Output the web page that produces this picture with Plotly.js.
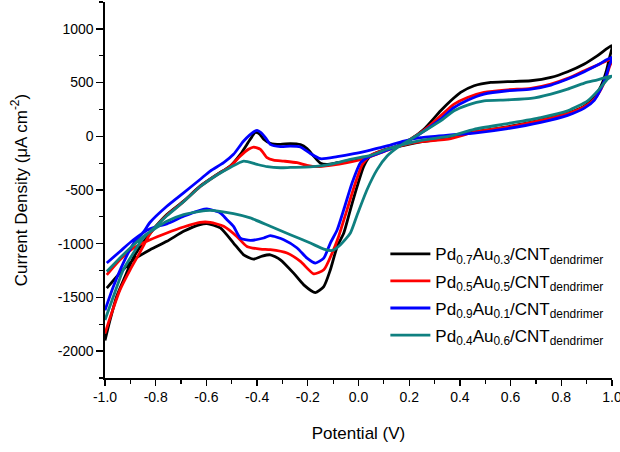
<!DOCTYPE html>
<html>
<head>
<meta charset="utf-8">
<script src="https://cdn.plot.ly/plotly-3.0.1.min.js"></script>
<style>html,body{margin:0;padding:0;background:#fff;}#chart{width:620px;height:452px;}</style>
</head>
<body>
<div id="chart"></div>
<script>
// Potential (V) and current density (uA cm^-2), one closed CV loop per sample
const seriesNames = [
  "Pd<sub>0.7</sub>Au<sub>0.3</sub>/CNT<sub>dendrimer</sub>",
  "Pd<sub>0.5</sub>Au<sub>0.5</sub>/CNT<sub>dendrimer</sub>",
  "Pd<sub>0.9</sub>Au<sub>0.1</sub>/CNT<sub>dendrimer</sub>",
  "Pd<sub>0.4</sub>Au<sub>0.6</sub>/CNT<sub>dendrimer</sub>"
];
const seriesColors = ["#000000", "#ff0000", "#0000ff", "#0f8080"];

const xTickVals = [-1.0,-0.8,-0.6,-0.4,-0.2,0.0,0.2,0.4,0.6,0.8,1.0];
const xTickText = ["-1.0","-0.8","-0.6","-0.4","-0.2","0.0","0.2","0.4","0.6","0.8","1.0"];
const yTickVals = [-2000,-1500,-1000,-500,0,500,1000];
const yTickText = ["-2000","-1500","-1000","-500","0","500","1000"];

const pd73V = [-1.0,-0.98,-0.954,-0.915,-0.888,-0.85,-0.8,-0.756,-0.69,-0.625,-0.558,-0.506,-0.466,-0.427,-0.407,-0.39,-0.374,-0.348,-0.308,-0.269,-0.229,-0.203,-0.177,-0.15,-0.124,-0.084,-0.018,0.047,0.113,0.179,0.245,0.364,0.456,0.588,0.719,0.825,0.891,0.93,0.957,0.976,0.989,1.0,
  0.943,0.891,0.825,0.759,0.68,0.588,0.522,0.456,0.403,0.364,0.324,0.258,0.206,0.153,0.087,0.047,0.021,-0.005,-0.032,-0.058,-0.084,-0.111,-0.137,-0.17,-0.216,-0.256,-0.308,-0.348,-0.38,-0.414,-0.453,-0.493,-0.545,-0.598,-0.625,-0.69,-0.756,-0.822,-0.888,-0.94,-0.993];
const pd73I = [-1900,-1710,-1492,-1274,-1130,-990,-840,-729,-604,-464,-355,-277,-168,-28,35,20,-28,-65,-75,-68,-78,-115,-184,-252,-262,-246,-221,-184,-121,-84,-53,-12,40,88,150,215,280,361,470,595,720,844,
  751,673,601,548,517,508,502,470,408,330,237,65,-28,-90,-137,-184,-277,-464,-682,-900,-1025,-1243,-1399,-1455,-1383,-1274,-1150,-1103,-1115,-1143,-1103,-994,-853,-813,-822,-885,-978,-1056,-1150,-1270,-1414];

const pd55V = [-1.0,-0.974,-0.941,-0.901,-0.862,-0.82,-0.756,-0.69,-0.625,-0.558,-0.506,-0.466,-0.434,-0.414,-0.387,-0.361,-0.335,-0.295,-0.242,-0.203,-0.163,-0.111,-0.045,0.021,0.087,0.153,0.219,0.364,0.456,0.588,0.719,0.825,0.891,0.93,0.957,0.976,0.989,1.0,
  0.943,0.891,0.825,0.759,0.68,0.588,0.495,0.43,0.377,0.324,0.26,0.2,0.15,0.087,0.047,0.015,-0.012,-0.045,-0.078,-0.104,-0.137,-0.177,-0.229,-0.282,-0.348,-0.387,-0.44,-0.48,-0.532,-0.585,-0.625,-0.69,-0.756,-0.822,-0.888,-0.941,-0.993];
const pd55I = [-1835,-1648,-1430,-1243,-1080,-900,-735,-608,-468,-358,-280,-184,-121,-100,-121,-199,-222,-231,-246,-271,-283,-271,-246,-209,-153,-96,-59,-22,38,85,148,212,276,345,440,540,640,720,
  663,610,539,486,446,433,408,361,299,190,60,-35,-95,-140,-178,-262,-433,-682,-930,-1087,-1243,-1280,-1165,-1087,-1056,-1050,-1025,-932,-838,-801,-801,-844,-900,-963,-1040,-1150,-1290];

const pd91V = [-1.0,-0.967,-0.928,-0.888,-0.848,-0.822,-0.756,-0.69,-0.625,-0.585,-0.532,-0.493,-0.453,-0.414,-0.4,-0.385,-0.365,-0.348,-0.308,-0.269,-0.229,-0.19,-0.15,-0.084,-0.018,0.047,0.113,0.179,0.245,0.364,0.456,0.588,0.719,0.825,0.891,0.93,0.957,0.976,0.989,1.0,
  0.943,0.891,0.825,0.759,0.68,0.588,0.495,0.43,0.377,0.324,0.26,0.2,0.15,0.1,0.034,0.008,-0.025,-0.058,-0.084,-0.111,-0.137,-0.17,-0.203,-0.242,-0.295,-0.348,-0.374,-0.427,-0.466,-0.493,-0.519,-0.545,-0.598,-0.625,-0.69,-0.756,-0.822,-0.888,-0.941,-0.993];
const pd91I = [-1620,-1399,-1180,-1000,-890,-800,-651,-526,-402,-324,-246,-168,-44,40,55,35,-20,-75,-96,-92,-100,-160,-209,-190,-162,-128,-90,-44,-12,12,30,72,130,195,262,335,445,555,655,735,
  663,601,533,477,439,424,393,336,268,159,50,-40,-95,-140,-199,-246,-433,-682,-870,-994,-1134,-1180,-1134,-1040,-963,-925,-947,-969,-947,-838,-776,-714,-676,-689,-745,-815,-860,-963,-1072,-1180];

const pd46V = [-1.0,-0.967,-0.928,-0.888,-0.85,-0.8,-0.756,-0.69,-0.625,-0.558,-0.506,-0.453,-0.4,-0.36,-0.308,-0.269,-0.19,-0.111,-0.032,0.047,0.113,0.179,0.258,0.364,0.456,0.588,0.719,0.825,0.904,0.95,0.983,1.0,
  0.943,0.891,0.825,0.759,0.68,0.588,0.495,0.43,0.377,0.324,0.271,0.206,0.153,0.113,0.074,0.034,-0.005,-0.032,-0.071,-0.104,-0.137,-0.19,-0.269,-0.348,-0.427,-0.493,-0.585,-0.625,-0.69,-0.756,-0.848,-0.915,-0.993];
const pd46I = [-1710,-1492,-1243,-1087,-950,-840,-740,-610,-470,-360,-290,-231,-262,-283,-293,-290,-285,-262,-215,-178,-121,-75,-34,3,65,118,174,237,330,439,533,564,
  526,495,439,393,352,339,330,290,237,143,65,-28,-106,-184,-308,-495,-730,-900,-1009,-1063,-1050,-994,-916,-838,-760,-720,-689,-698,-729,-791,-932,-1072,-1259];

const xs = [pd73V, pd55V, pd91V, pd46V];
const ys = [pd73I, pd55I, pd91I, pd46I];

const traces = xs.map((x, i) => ({
  type: "scatter", mode: "lines", x: x, y: ys[i], name: seriesNames[i],
  legendgroup: "g" + i,
  line: {color: seriesColors[i], width: 2.8, shape: "spline", smoothing: 0.6}
}));

const font = {family: "Liberation Sans, Arial, sans-serif", color: "#000"};
const layout = {
  width: 620, height: 452,
  margin: {l: 105, r: 8, t: 2, b: 74},
  paper_bgcolor: "#fff", plot_bgcolor: "#fff",
  font: Object.assign({size: 14}, font),
  showlegend: true,
  legend: {x: 0.553, y: 0.377, xanchor: "left", yanchor: "top", bgcolor: "rgba(0,0,0,0)",
           font: Object.assign({size: 17}, font), tracegroupgap: 2, itemwidth: 40},
  xaxis: {
    range: [-1.0, 1.0], tickmode: "array", tickvals: xTickVals, ticktext: xTickText,
    ticklabeloverflow: "allow",
    showgrid: false, zeroline: false, showline: true, linecolor: "#000", linewidth: 1.6,
    ticks: "outside", ticklen: 6, tickwidth: 1.4, tickcolor: "#000",
    minor: {dtick: 0.1, tick0: -1.0, ticks: "outside", ticklen: 4, tickwidth: 1.2, tickcolor: "#000"},
    tickfont: Object.assign({size: 14}, font),
    title: {text: "Potential (V)", font: Object.assign({size: 17}, font), standoff: 22}
  },
  yaxis: {
    range: [-2250, 1250], tickmode: "array", tickvals: yTickVals, ticktext: yTickText,
    showgrid: false, zeroline: false, showline: true, linecolor: "#000", linewidth: 1.6,
    ticks: "outside", ticklen: 7, tickwidth: 1.4, tickcolor: "#000",
    minor: {dtick: 250, tick0: 0, ticks: "outside", ticklen: 4, tickwidth: 1.2, tickcolor: "#000"},
    tickfont: Object.assign({size: 14}, font),
    title: {text: "Current Density (μA cm<sup>-2</sup>)", font: Object.assign({size: 17}, font), standoff: 26}
  }
};

Plotly.newPlot("chart", traces, layout, {displayModeBar: false, staticPlot: true});
</script>
</body>
</html>
